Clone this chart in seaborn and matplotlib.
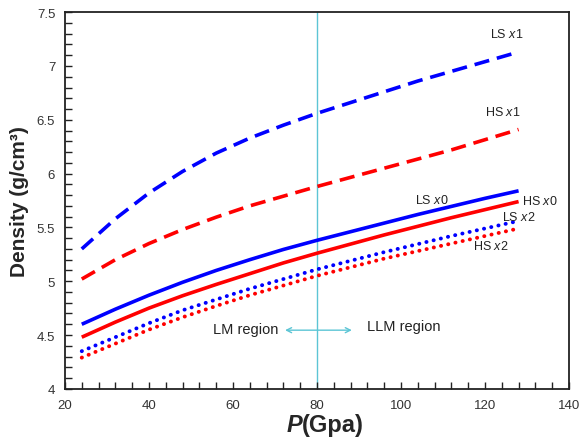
import numpy as np
import pandas as pd
import matplotlib
matplotlib.use("Agg")
import matplotlib.pyplot as plt
import seaborn as sns
from matplotlib.ticker import MultipleLocator

pressure = [24, 32, 40, 48, 56, 64, 72, 80, 88, 96, 104, 112, 120, 128]
ls_x1 = [5.30, 5.58, 5.82, 6.02, 6.19, 6.33, 6.45, 6.56, 6.66, 6.76, 6.86, 6.95, 7.04, 7.13]
hs_x1 = [5.02, 5.20, 5.35, 5.48, 5.595, 5.70, 5.79, 5.88, 5.965, 6.05, 6.135, 6.22, 6.315, 6.41]
ls_x0 = [4.60, 4.74, 4.87, 4.99, 5.10, 5.20, 5.295, 5.38, 5.46, 5.54, 5.62, 5.695, 5.77, 5.84]
hs_x0 = [4.48, 4.62, 4.75, 4.865, 4.97, 5.07, 5.17, 5.26, 5.345, 5.43, 5.51, 5.59, 5.665, 5.74]
ls_x2 = [4.35, 4.48, 4.61, 4.73, 4.83, 4.93, 5.02, 5.11, 5.19, 5.27, 5.345, 5.42, 5.49, 5.56]
hs_x2 = [4.29, 4.42, 4.55, 4.665, 4.77, 4.87, 4.96, 5.05, 5.13, 5.21, 5.28, 5.35, 5.42, 5.49]

series = [
    ("LS x1", ls_x1, "#0000ff", "dash"),
    ("HS x1", hs_x1, "#ff0000", "dash"),
    ("LS x0", ls_x0, "#0000ff", "solid"),
    ("HS x0", hs_x0, "#ff0000", "solid"),
    ("LS x2", ls_x2, "#0000ff", "dot"),
    ("HS x2", hs_x2, "#ff0000", "dot"),
]
styles = {"dash": (0, (4.2, 2.2)), "solid": "-", "dot": (0, (0.05, 1.85))}

sns.set_style("white")
plt.rcParams['font.family'] = ['Liberation Sans', 'DejaVu Sans']
plt.rcParams['mathtext.fontset'] = 'custom'
plt.rcParams['mathtext.rm'] = 'Liberation Sans'
plt.rcParams['mathtext.it'] = 'Liberation Sans:italic'
plt.rcParams['mathtext.bf'] = 'Liberation Sans:bold'

fig = plt.figure(figsize=(5.8, 4.39), dpi=100)
ax = fig.add_axes([0.112, 0.112, 0.869, 0.858])

for name, vals, col, kind in series:
    df = pd.DataFrame({"P": pressure, "rho": vals})
    lw = 2.8 if kind == "dot" else 2.6
    sns.lineplot(data=df, x="P", y="rho", ax=ax, color=col, linewidth=lw,
                 linestyle=styles[kind],
                 dash_capstyle="round" if kind == "dot" else "butt",
                 solid_capstyle="butt")

ax.axvline(80, color="#5cc5d5", linewidth=1.0, zorder=0)

ax.set_xlim(20, 140)
ax.set_ylim(4, 7.5)
ax.xaxis.set_major_locator(MultipleLocator(20))
ax.xaxis.set_minor_locator(MultipleLocator(4))
ax.yaxis.set_major_locator(MultipleLocator(0.5))
ax.yaxis.set_minor_locator(MultipleLocator(0.1))
ax.tick_params(which="both", direction="in", bottom=True, left=True, top=False, right=False,
               colors="#222222", labelcolor="#333333", labelsize=9.5)
ax.tick_params(which="both", length=5, width=1)
ax.tick_params(axis="x", pad=7)
ax.tick_params(axis="y", pad=7)
ax.set_yticks([4, 4.5, 5, 5.5, 6, 6.5, 7, 7.5])
ax.set_yticklabels(["4", "4.5", "5", "5.5", "6", "6.5", "7", "7.5"])
for s in ax.spines.values():
    s.set_color("#222222")
    s.set_linewidth(1.3)

ax.set_xlabel("")
fig.text(0.521, 0.016, "(Gpa)", fontsize=17, fontweight="bold", ha="left", va="baseline")
fig.text(0.521, 0.016, "P", fontsize=17, fontweight="bold", style="italic", ha="right", va="baseline")
ax.set_ylabel("Density (g/cm³)", fontsize=15, fontweight="bold", labelpad=6)

lab = dict(fontsize=9, color="#222222")
ax.text(121.2, 7.30, "LS $x$1", ha="left", va="center", **lab)
ax.text(120.0, 6.58, "HS $x$1", ha="left", va="center", **lab)
ax.text(103.3, 5.76, "LS $x$0", ha="left", va="center", **lab)
ax.text(128.8, 5.75, "HS $x$0", ha="left", va="center", **lab)
ax.text(124.0, 5.60, "LS $x$2", ha="left", va="center", **lab)
ax.text(117.1, 5.33, "HS $x$2", ha="left", va="center", **lab)

ax.text(63.0, 4.56, "LM region", ha="center", va="center", fontsize=10.5, color="#222222")
ax.text(100.6, 4.58, "LLM region", ha="center", va="center", fontsize=10.5, color="#222222")
ax.annotate("", xy=(72.4, 4.545), xytext=(88.3, 4.545),
            arrowprops=dict(arrowstyle="<->", color="#5cc5d5", lw=1.0,
                            shrinkA=0, shrinkB=0, mutation_scale=9))

fig.savefig("out.png", dpi=100)
